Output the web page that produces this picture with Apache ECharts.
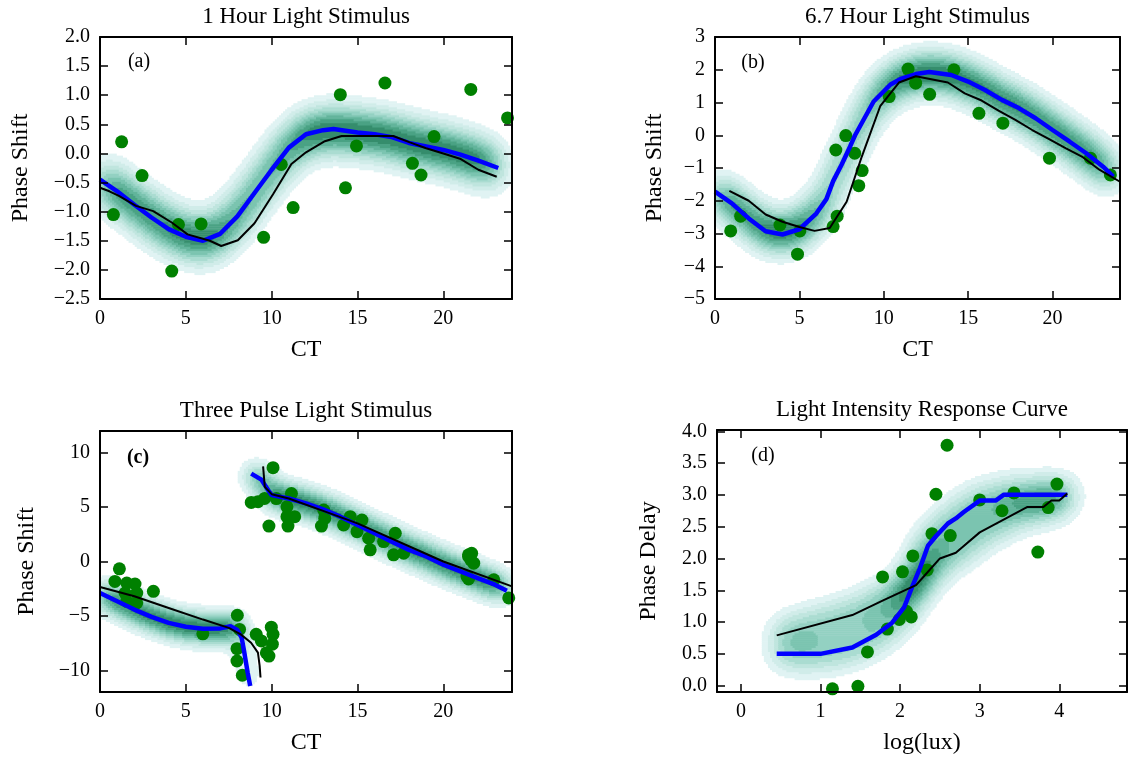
<!DOCTYPE html>
<html>
<head>
<meta charset="utf-8">
<title>Light stimulus phase response curves</title>
<script src="https://cdn.jsdelivr.net/npm/echarts@6/dist/echarts.min.js"></script>
<style>
  html, body { margin: 0; padding: 0; background: #fff; }
  #chart { width: 1130px; height: 759px; }
</style>
</head>
<body>
<div id="chart"></div>
<script>
// ---- values ----
// (a) 1 hour light stimulus
var dotsA = [[0.78,-1.05],[1.26,0.20],[2.45,-0.38],[4.18,-2.02],[4.57,-1.22],[5.89,-1.21],[9.53,-1.44],
  [10.56,-0.19],[11.25,-0.93],[14.0,1.01],[14.3,-0.59],[14.94,0.13],[16.6,1.21],[18.2,-0.17],
  [18.7,-0.37],[19.46,0.29],[21.6,1.10],[23.74,0.61]];
var blueA = [[0,-0.45],[1,-0.65],[2,-0.88],[3,-1.1],[4,-1.3],[5,-1.43],[6,-1.5],[7,-1.38],[8,-1.08],
  [9,-0.68],[10,-0.28],[11,0.1],[12,0.33],[13,0.4],[13.6,0.42],[15,0.36],[16,0.33],[17,0.28],[18,0.18],
  [19,0.12],[20,0.06],[21,-0.02],[22,-0.12],[23.2,-0.25]];
var blackA = [[0,-0.59],[0.55,-0.65],[1.1,-0.73],[2.1,-0.9],[3.1,-0.99],[4.2,-1.19],[5.1,-1.39],[6.4,-1.5],
  [7.06,-1.59],[8.03,-1.49],[9,-1.2],[10.08,-0.7],[11.15,-0.18],[12,0.02],[13.1,0.21],[14.07,0.3],
  [17.08,0.3],[18.05,0.19],[19,0.09],[20,0],[20.97,-0.09],[22.04,-0.28],[23.11,-0.4]];

// (b) 6.7 hour light stimulus
var dotsB = [[0.93,-2.92],[1.52,-2.47],[3.85,-2.74],[4.89,-3.63],[5.03,-2.92],[7.0,-2.79],[7.24,-2.47],
  [7.16,-0.45],[7.75,-0.01],[8.28,-0.55],[8.52,-1.54],[8.72,-1.08],[10.32,1.18],[11.44,2.02],
  [11.89,1.59],[12.72,1.25],[14.16,2.0],[15.64,0.67],[17.06,0.37],[19.82,-0.70],[22.25,-0.70],[23.43,-1.21]];
var blueB = [[0,-1.72],[1,-2.08],[2,-2.54],[3,-2.93],[4,-3.03],[5,-2.87],[6,-2.39],[6.6,-1.95],[7,-1.4],
  [7.5,-0.9],[8,-0.35],[8.3,0],[9.4,1.03],[10.4,1.55],[11,1.72],[12,1.88],[12.7,1.93],[14,1.84],
  [15,1.64],[16,1.38],[17,1.08],[18,0.83],[19,0.52],[20,0.16],[21,-0.19],[22,-0.55],[23,-0.96],[23.6,-1.26]];
var blackB = [[0.85,-1.7],[2,-2.0],[3,-2.42],[4,-2.64],[5,-2.8],[5.9,-2.92],[6.8,-2.83],[7.8,-2.03],
  [8.7,-0.65],[9.8,0.9],[10.9,1.61],[11.9,1.8],[13.8,1.61],[14.8,1.28],[15.8,1.06],[16.8,0.75],
  [17.8,0.47],[18.8,0.16],[19.8,-0.12],[20.8,-0.4],[21.8,-0.67],[22.8,-1.06],[24,-1.42]];

// (c) three pulse light stimulus
var dotsC = [[0.87,-1.83],[1.13,-0.67],[1.46,-2.9],[1.56,-1.98],[1.56,-3.66],[2.04,-2.07],[2.14,-2.9],
  [2.14,-3.8],[3.11,-2.74],[5.99,-6.65],
  [8.0,-4.94],[8.13,-6.25],[7.98,-8.02],[7.98,-9.15],[8.29,-10.46],[9.1,-6.7],[9.4,-7.3],[9.69,-8.4],
  [9.84,-8.7],[9.98,-6.04],[10.08,-6.7],[10.04,-7.6],
  [10.08,8.63],[8.81,5.43],[9.2,5.5],[9.59,5.8],[9.84,3.26],[10.27,5.79],[11.15,6.25],[10.89,5.03],
  [10.89,4.12],[11.34,4.12],[10.95,3.26],[13.03,4.73],[12.9,3.26],[13.09,3.96],[14.19,3.36],[14.58,4.12],
  [15.26,3.81],[14.97,2.74],[15.65,2.14],[15.74,1.07],[16.52,1.83],[17.2,2.6],[17.1,0.61],[17.69,0.77],
  [21.47,0.61],[21.47,0.46],[21.65,0.76],[21.6,0.15],[21.77,-0.15],[21.38,-1.37],[21.47,-1.6],
  [22.94,-1.68],[23.81,-3.35]];
var blueC1 = [[0,-2.9],[1,-3.66],[2,-4.42],[3,-5.09],[4,-5.64],[5,-6.0],[6,-6.19],[7,-6.15],[7.6,-5.95],
  [8.0,-6.3],[8.25,-7.0],[8.4,-8.3],[8.6,-10.2],[8.75,-11.45]];
var blueC2 = [[8.81,8.08],[9.4,7.53],[9.8,6.55],[10,6.1],[11,5.79],[12,5.34],[13,4.79],[14,4.12],[15,3.35],
  [16,2.59],[17,1.83],[18,1.07],[19,0.46],[20,-0.3],[21,-0.91],[22,-1.52],[23,-2.13],[23.7,-2.68]];
var blackC1 = [[0,-2.35],[2,-3.2],[4,-4.27],[6,-5.34],[7.5,-6.1],[8.2,-6.7],[8.8,-7.47],[9.2,-8.38],
  [9.3,-9.6],[9.35,-10.67]];
var blackC2 = [[9.5,8.75],[9.6,6.86],[10,6.19],[11,5.79],[13,4.65],[15,3.51],[20,0],[24,-2.29]];

// (d) light intensity response curve
var dotsD = [[1.15,-0.05],[1.47,-0.01],[1.59,0.53],[1.78,1.71],[1.84,0.89],[1.99,1.04],[2.03,1.79],
  [2.08,1.17],[2.14,1.08],[2.16,2.04],[2.34,1.82],[2.4,2.39],[2.45,3.01],[2.59,3.78],[2.63,2.36],
  [3.0,2.92],[3.28,2.75],[3.43,3.03],[3.73,2.1],[3.86,2.8],[3.97,3.17]];
var blueD = [[0.45,0.5],[1.0,0.5],[1.4,0.6],[1.7,0.8],[1.9,0.99],[2.05,1.23],[2.15,1.55],[2.25,1.85],
  [2.35,2.2],[2.45,2.35],[2.6,2.55],[2.7,2.63],[2.8,2.73],[3.0,2.91],[3.2,2.91],[3.3,3.0],[4.1,3.0]];
var blackD = [[0.45,0.79],[1.4,1.11],[1.8,1.35],[2.2,1.58],[2.3,1.72],[2.5,2.0],[2.7,2.09],[3.0,2.41],
  [3.6,2.81],[3.8,2.81],[3.9,2.91],[4.0,2.91],[4.1,3.02]];

// tick labels
var ticksCT = [0, 5, 10, 15, 20];
var ticksA = [-2.5, -2.0, -1.5, -1.0, -0.5, 0.0, 0.5, 1.0, 1.5, 2.0];
var ticksB = [-5, -4, -3, -2, -1, 0, 1, 2, 3];
var ticksC = [-10, -5, 0, 5, 10];
var ticksLux = [0, 1, 2, 3, 4];
var ticksDelay = [0.0, 0.5, 1.0, 1.5, 2.0, 2.5, 3.0, 3.5, 4.0];

// ---- styling ----
var FONT = 'Liberation Serif';
var shades = ['#e0f3f3', '#d0ece9', '#bfe5de', '#aadcd1', '#93d1c2', '#7bc4b0', '#62b49b', '#4aa284', '#358d6c'];

var panels = [
  { grid: { left: 100, top: 37, width: 412, height: 262 }, x: [0, 24], y: [-2.5, 2.0],
    xt: ticksCT, yt: ticksA, xdec: 0, ydec: 1, xname: 'CT', yname: 'Phase Shift', ygap: 67,
    title: '1 Hour Light Stimulus', tag: '(a)', tagPos: [139, 62],
    dots: dotsA, blue: [blueA], black: [blackA], kde: [blueA], bw: [0.75, 0.29], n: [200, 130] },
  { grid: { left: 715, top: 37, width: 405, height: 262 }, x: [0, 24], y: [-5, 3],
    xt: ticksCT, yt: ticksB, xdec: 0, ydec: 0, xname: 'CT', yname: 'Phase Shift', ygap: 48,
    title: '6.7 Hour Light Stimulus', tag: '(b)', tagPos: [753, 63],
    dots: dotsB, blue: [blueB], black: [blackB], kde: [blueB], bw: [0.7, 0.45], n: [200, 130] },
  { grid: { left: 100, top: 431, width: 412, height: 261 }, x: [0, 24], y: [-12, 12],
    xt: ticksCT, yt: ticksC, xdec: 0, ydec: 0, xname: 'CT', yname: 'Phase Shift', ygap: 61,
    title: 'Three Pulse Light Stimulus', tag: '(c)', tagPos: [138, 458], tagBold: true,
    dots: dotsC, blue: [blueC1, blueC2], black: [blackC1, blackC2], kde: [blueC1, blueC2],
    bw: [0.6, 1.0], n: [200, 130] },
  { grid: { left: 717, top: 430, width: 410, height: 262 }, x: [-0.3, 4.85], y: [-0.1, 4.02],
    xt: ticksLux, yt: ticksDelay, xdec: 0, ydec: 1, xname: 'log(lux)', yname: 'Phase Delay', ygap: 56,
    title: 'Light Intensity Response Curve', tag: '(d)', tagPos: [763, 456],
    dots: dotsD, blue: [blueD], black: [blackD], kde: [blueD, blackD], bw: [0.17, 0.23], n: [200, 130],
    arc: true }
];

// kernel density of the fitted curve(s), returned as horizontal runs of equal contour level.
// weights follow x-length, or on-screen arc length when p.arc is set
function densityRuns(p) {
  var xr = p.x, yr = p.y, sx = p.bw[0], sy = p.bw[1], pts = [];
  var kx = p.grid.width / (xr[1] - xr[0]), ky = p.grid.height / (yr[1] - yr[0]);
  p.kde.forEach(function (c) {
    for (var i = 1; i < c.length; i++) {
      var x0 = c[i - 1][0], y0 = c[i - 1][1], x1 = c[i][0], y1 = c[i][1];
      var m = Math.max(1, Math.ceil(Math.max((x1 - x0) / (sx / 8), Math.abs(y1 - y0) / (sy / 4))));
      var len = p.arc ? Math.sqrt(Math.pow((x1 - x0) * kx, 2) + Math.pow((y1 - y0) * ky, 2)) / kx : (x1 - x0);
      var w = len / m;
      for (var k = 0; k < m; k++) {
        var t = (k + 0.5) / m;
        pts.push([x0 + (x1 - x0) * t, y0 + (y1 - y0) * t, w]);
      }
    }
  });
  var nx = p.n[0], ny = p.n[1];
  var dx = (xr[1] - xr[0]) / nx, dy = (yr[1] - yr[0]) / ny;
  var dens = new Float64Array(nx * ny), max = 0;
  for (var j = 0; j < ny; j++) {
    var cy = yr[0] + (j + 0.5) * dy;
    for (var i = 0; i < nx; i++) {
      var cx = xr[0] + (i + 0.5) * dx, s = 0;
      for (var q = 0; q < pts.length; q++) {
        var ux = (cx - pts[q][0]) / sx;
        if (ux > 4 || ux < -4) continue;
        var uy = (cy - pts[q][1]) / sy;
        if (uy > 4 || uy < -4) continue;
        s += pts[q][2] * Math.exp(-0.5 * (ux * ux + uy * uy));
      }
      dens[j * nx + i] = s;
      if (s > max) max = s;
    }
  }
  var runs = [];
  for (var j2 = 0; j2 < ny; j2++) {
    var start = 0, cur = -1;
    for (var i2 = 0; i2 <= nx; i2++) {
      var lv = i2 < nx ? Math.min(9, Math.floor(10 * dens[j2 * nx + i2] / max)) : -1;
      if (lv !== cur) {
        if (cur > 0) {
          runs.push([xr[0] + start * dx, xr[0] + i2 * dx, yr[0] + j2 * dy, yr[0] + (j2 + 1) * dy, cur]);
        }
        start = i2; cur = lv;
      }
    }
  }
  runs.sort(function (a, b) { return a[4] - b[4]; });
  return runs;
}

function renderRun(params, api) {
  var p0 = api.coord([api.value(0), api.value(3)]);
  var p1 = api.coord([api.value(1), api.value(2)]);
  return {
    type: 'rect',
    shape: { x: p0[0] - 0.3, y: p0[1] - 0.3, width: p1[0] - p0[0] + 0.6, height: p1[1] - p0[1] + 0.6 },
    style: { fill: shades[api.value(4) - 1] }
  };
}

function fmt(dec) {
  return function (v) { return v.toFixed(dec).replace('-', '\u2212'); };
}

var grids = [], xAxes = [], yAxes = [], series = [], graphics = [];
var lineStyle = { color: '#000', width: 2 };
var tickStyle = { color: '#000', width: 1.5 };
var labelStyle = { fontFamily: FONT, fontSize: 20, color: '#000' };
var nameStyle = { fontFamily: FONT, fontSize: 24, color: '#000' };

panels.forEach(function (p, i) {
  grids.push(p.grid);
  xAxes[i] = {
    type: 'value', gridIndex: i, position: 'bottom', min: p.x[0], max: p.x[1], z: 10,
    name: p.xname, nameLocation: 'middle', nameGap: 39, nameTextStyle: nameStyle,
    axisLine: { onZero: false, lineStyle: lineStyle },
    axisTick: { inside: true, length: 8, lineStyle: tickStyle, customValues: p.xt },
    axisLabel: Object.assign({ customValues: p.xt, margin: 10, formatter: fmt(p.xdec) }, labelStyle),
    splitLine: { show: false }
  };
  xAxes[i + 4] = {
    type: 'value', gridIndex: i, position: 'top', min: p.x[0], max: p.x[1], z: 10,
    axisLine: { onZero: false, lineStyle: lineStyle },
    axisTick: { inside: true, length: 8, lineStyle: tickStyle, customValues: p.xt },
    axisLabel: { show: false }, splitLine: { show: false }
  };
  yAxes[i] = {
    type: 'value', gridIndex: i, position: 'left', min: p.y[0], max: p.y[1], z: 10,
    name: p.yname, nameLocation: 'middle', nameGap: p.ygap, nameTextStyle: nameStyle,
    axisLine: { onZero: false, lineStyle: lineStyle },
    axisTick: { inside: true, length: 8, lineStyle: tickStyle, customValues: p.yt },
    axisLabel: Object.assign({ customValues: p.yt, margin: 10, formatter: fmt(p.ydec) }, labelStyle),
    splitLine: { show: false }
  };
  yAxes[i + 4] = {
    type: 'value', gridIndex: i, position: 'right', min: p.y[0], max: p.y[1], z: 10,
    axisLine: { onZero: false, lineStyle: lineStyle },
    axisTick: { inside: true, length: 8, lineStyle: tickStyle, customValues: p.yt },
    axisLabel: { show: false }, splitLine: { show: false }
  };

  series.push({
    type: 'custom', xAxisIndex: i, yAxisIndex: i, clip: true, z: 1, silent: true,
    renderItem: renderRun,
    encode: { x: [0, 1], y: [2, 3] },
    data: densityRuns(p)
  });
  series.push({
    type: 'scatter', xAxisIndex: i, yAxisIndex: i, z: 3, symbolSize: 13,
    itemStyle: { color: '#008000', opacity: 1 }, data: p.dots
  });
  p.blue.forEach(function (c) {
    series.push({
      type: 'line', xAxisIndex: i, yAxisIndex: i, z: 4, showSymbol: false, clip: true,
      lineStyle: { color: '#0000ff', width: 4.5 }, data: c
    });
  });
  p.black.forEach(function (c) {
    series.push({
      type: 'line', xAxisIndex: i, yAxisIndex: i, z: 5, showSymbol: false, clip: true,
      lineStyle: { color: '#000000', width: 2 }, data: c
    });
  });

  graphics.push({
    type: 'text', x: p.grid.left + p.grid.width / 2, y: p.grid.top - 20,
    style: { text: p.title, fontFamily: FONT, fontSize: 23, fill: '#000', align: 'center', verticalAlign: 'middle' }
  });
  graphics.push({
    type: 'text', x: p.tagPos[0], y: p.tagPos[1], z: 20,
    style: { text: p.tag, fontFamily: FONT, fontSize: 20, fontWeight: p.tagBold ? 'bold' : 'normal',
      fill: '#000', align: 'center', verticalAlign: 'middle' }
  });
});

var myChart = echarts.init(document.getElementById('chart'), null, { renderer: 'canvas' });
myChart.setOption({
  animation: false,
  backgroundColor: '#fff',
  grid: grids,
  xAxis: xAxes,
  yAxis: yAxes,
  series: series,
  graphic: graphics
});
</script>
</body>
</html>
